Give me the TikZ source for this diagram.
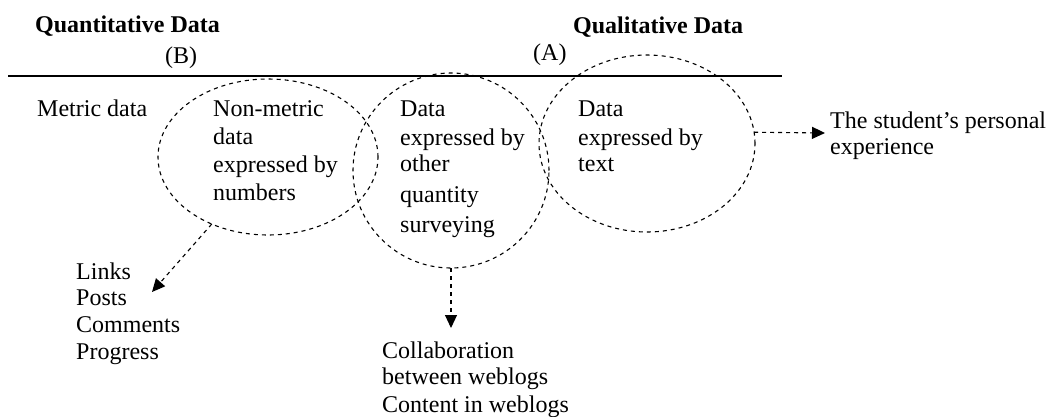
\documentclass[tikz,border=0pt]{standalone}
\usepackage{fontspec}
\setmainfont{Liberation Serif}
\usetikzlibrary{arrows.meta,shapes.geometric}
\begin{document}
\begin{tikzpicture}[x=1pt,y=-1pt,
  txt/.style={anchor=base west,inner sep=0pt,font=\fontsize{24}{28}\selectfont},
  ttl/.style={anchor=base west,inner sep=0pt,font=\bfseries\fontsize{24}{28}\selectfont},
  oval/.style={ellipse,draw,line width=1.1pt,dash pattern=on 4pt off 4pt,inner sep=0pt,outer sep=0pt},
  conn/.style={line width=1.1pt,dash pattern=on 4pt off 4pt,-{Triangle[length=13pt,width=12pt]}}]
\useasboundingbox (0,0) rectangle (1060,416);

% rule
\coordinate (rl) at (8,76);
\coordinate (rr) at (782,76);
\draw[line width=1.3pt] (rl) -- (rr);

% ellipses
\node[oval,minimum width=220pt,minimum height=156pt] (e1) at (268,157) {};
\node[oval,minimum width=196pt,minimum height=195pt] (e2) at (451,170.5) {};
\node[oval,minimum width=216pt,minimum height=177pt] (e3) at (647,143.5) {};

% headings
\node[ttl] (qn) at (35,32) {Quantitative Data};
\node[ttl] (ql) at (573,33) {Qualitative Data};
\node[txt] (lb) at (165,63) {(B)};
\node[txt] (la) at (533,60) {(A)};

\node[txt] (md) at (37,116) {Metric data};

% ellipse 1 text
\node[txt] (n1) at (213,116) {Non-metric};
\node[txt] (n2) at (213,144) {data};
\node[txt] (n3) at (213,172) {expressed by};
\node[txt] (n4) at (213,200) {numbers};

% ellipse 2 text
\node[txt] (m1) at (400,116) {Data};
\node[txt] (m2) at (400,145) {expressed by};
\node[txt] (m3) at (400,171) {other};
\node[txt] (m4) at (400,202) {quantity};
\node[txt] (m5) at (400,232) {surveying};

% ellipse 3 text
\node[txt] (r1) at (578,116) {Data};
\node[txt] (r2) at (578,145) {expressed by};
\node[txt] (r3) at (578,171) {text};

% outputs
\node[txt] (s1) at (830,128) {The student’s personal};
\node[txt] (s2) at (830,154) {experience};

\node[txt] (k1) at (76,279) {Links};
\node[txt] (k2) at (76,305) {Posts};
\node[txt] (k3) at (76,332) {Comments};
\node[txt] (k4) at (76,359) {Progress};

\node[txt] (c1) at (382,358) {Collaboration};
\node[txt] (c2) at (382,384) {between weblogs};
\node[txt] (c3) at (382,412) {Content in weblogs};

% connectors
\coordinate (t1) at (152,292);
\coordinate (t2) at (451,328);
\coordinate (t3) at (825,133);
\draw[conn] (e1.230) -- (t1);
\draw[conn] (e2.south) -- (t2);
\draw[conn] (e3.6) -- (t3);
\end{tikzpicture}
\end{document}
